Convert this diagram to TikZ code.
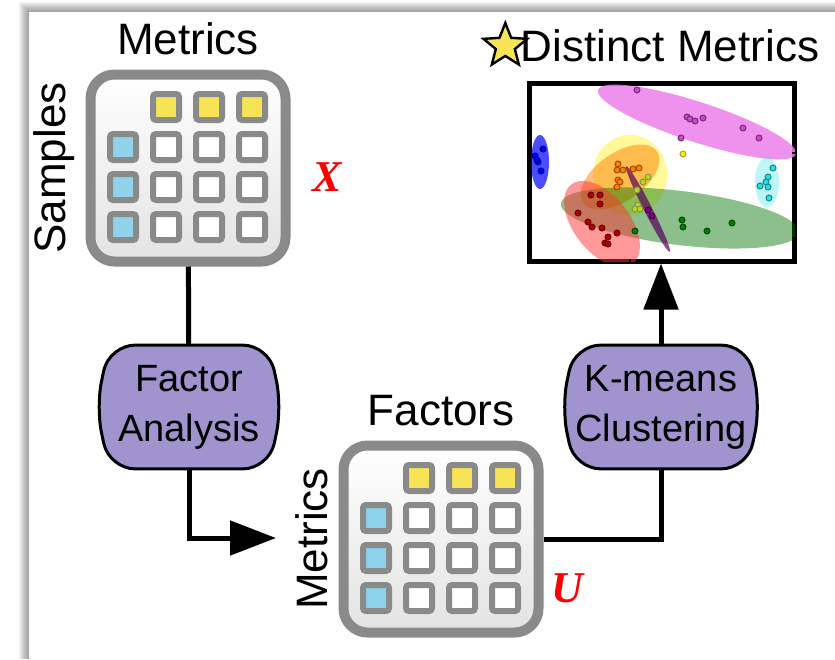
\documentclass[tikz,border=0pt]{standalone}
\usepackage{fontspec}
\setmainfont{Liberation Sans}
\newfontfamily\varfont{Liberation Serif}
\usetikzlibrary{positioning}
\usetikzlibrary{calc}
\usetikzlibrary{shapes.geometric}
\usetikzlibrary{arrows.meta}
\definecolor{cell yellow}{RGB}{246,228,86}
\definecolor{cell blue}{RGB}{143,210,236}
\definecolor{cell gray}{RGB}{138,138,138}
\definecolor{stage purple}{RGB}{160,148,206}
\definecolor{cluster pink}{RGB}{236,128,236}
\definecolor{point pink}{RGB}{205,70,205}
\definecolor{cluster cyan}{RGB}{40,225,230}
\tikzset{
    % Heavy black lines joining the stages
    flow/.style={line width=2.5pt},
    flow tip/.style={-{Triangle[length=23pt,width=17pt]}},
%
    % Rounded tile holding a data matrix
    data box/.style={
        draw=cell gray, line width=5pt, rounded corners=12pt,
        top color=white, bottom color=black!11,
        minimum width=97.5pt, minimum height=93.5pt, inner sep=0},
    % One entry of such a matrix
    cell/.style={
        draw=cell gray, line width=3pt, rounded corners=1.5pt,
        minimum size=13pt, inner sep=0},
%
    % Purple processing stage: text only, the outline goes behind it
    stage/.style={
        rectangle, inner xsep=0, minimum height=61.5pt, align=center,
        font=\fontsize{19}{25}\selectfont},
    stage outline/.style={
        draw, line width=1.5pt, fill=stage purple, rounded corners=13pt},
%
    % Text over and beside the tiles
    heading/.style={inner sep=0, font=\fontsize{22}{26}\selectfont},
    matrix name/.style={text=red, font=\varfont\bfseries\itshape\fontsize{22}{24}\selectfont},
%
    % Translucent clusters and points of the scatter plot
    cluster/.style={fill=#1, fill opacity=.5},
    dot/.style={circle, draw=#1!60!black, fill=#1, line width=.5pt,
        inner sep=0, minimum size=3pt}}
\pgfdeclarelayer{background}
\pgfsetlayers{background,main}

\begin{document}
\begin{tikzpicture}[x=0.5pt, y=-0.5pt]
\useasboundingbox (0,0) rectangle (835,659);

% Sheet with a soft shadow along its top and left
\begin{pgfonlayer}{background}
\foreach \k in {1,...,10}
    \fill[black, opacity=.045] ({29-\k},{12-\k}) rectangle (835,659);
\fill[white] (29,12) rectangle (835,659);
\end{pgfonlayer}

% The two matrices, X on top and U below
\foreach \name/\cx/\cy in {xmat/188/168, umat/441/539} {
    \node[data box] (\name) at (\cx,\cy) {};
    \foreach \i in {1,2,3}
        \node[cell, fill=cell yellow] at ({\cx-65+43*\i},{\cy-61}) {};
    \foreach \j in {1,2,3} {
        \node[cell, fill=cell blue] at ({\cx-65},{\cy-61+40*\j}) {};
        \foreach \i in {1,2,3}
            \node[cell, fill=white] at ({\cx-65+43*\i},{\cy-61+40*\j}) {};
    }
}

\node[heading, above=7pt of xmat] (xmat cols) {Metrics};
\node[heading, rotate=90, anchor=south] (xmat rows)
    at ([xshift=-5pt]xmat.west) {Samples};
\node[matrix name] (xmat label) at (327,177) {X};

\node[heading, above=7pt of umat] (umat cols) {Factors};
\node[heading, rotate=90, anchor=south] (umat rows)
    at ([xshift=-5pt]umat.west) {Metrics};
\node[matrix name] (umat label) at (567,588) {U};

% Scatter plot of the clustered metrics
\node[draw, line width=2.5pt, minimum width=132.5pt, minimum height=89pt,
    inner sep=0] (plot) at (662,172) {};

\begin{scope}
    \clip (529,82) rectangle (795,261);
    \fill[cluster=blue, fill opacity=.7] (540,162) ellipse (9 and 27);
    \fill[cluster=cluster pink, fill opacity=.85, rotate around={-18:(697,122)}]
        (697,122) ellipse (104 and 20);
    \fill[cluster=cluster cyan, fill opacity=.3] (767,182) ellipse (12 and 25);
    \fill[cluster=yellow, fill opacity=.4] (630,175) ellipse (37 and 40);
    \fill[cluster=orange, fill opacity=.5, rotate around={35:(620,177)}]
        (620,177) ellipse (45 and 24);
    \fill[cluster=green!45!black, fill opacity=.45, rotate around={-7:(680,218)}]
        (680,218) ellipse (120 and 27);
    \fill[cluster=red!80, rotate around={-52:(602,224)}]
        (602,224) ellipse (50 and 28);
    \fill[cluster=violet!70!black, fill opacity=.7, rotate around={-63:(648,209)}]
        (648,209) ellipse (48 and 4);

    \foreach \px/\py in {637/90, 687/117, 690/119, 695/121, 703/118,
            743/128, 759/138, 681/138}
        \node[dot=point pink] at (\px,\py) {};
    \node[dot=yellow] at (683,154) {};
    \foreach \px/\py in {543/149, 535/156, 538/162, 541/171, 537/160}
        \node[dot=blue] at (\px,\py) {};
    \foreach \px/\py in {773/168, 768/177, 766/182, 760/186, 768/187, 769/198}
        \node[dot=cluster cyan] at (\px,\py) {};
    \foreach \px/\py in {618/164, 617/170, 623/170, 633/169, 639/168,
            618/180, 617/187, 620/182}
        \node[dot=orange] at (\px,\py) {};
    \foreach \px/\py in {648/177, 643/182, 637/190, 638/205, 635/209, 640/209}
        \node[dot=yellow!70!green] at (\px,\py) {};
    \foreach \px/\py in {591/195, 600/195, 600/204, 578/213, 588/222,
            592/227, 602/228, 617/233, 608/237, 605/243, 608/244}
        \node[dot=red!70!black] at (\px,\py) {};
    \foreach \px/\py in {635/231, 682/220, 683/227, 707/231, 732/223}
        \node[dot=green!50!black] at (\px,\py) {};
    \foreach \px/\py in {652/216, 648/210}
        \node[dot=violet] at (\px,\py) {};
\end{scope}

% Axis ticks along the right and bottom edges
\foreach \ty in {90,112,132,153,175,197,217,238}
    \draw[line width=.6pt] (plot.east |- 0,\ty) -- ++(-5,0);
\foreach \tx in {553,592,630,667,705,742,778}
    \draw[line width=.6pt] (plot.south -| \tx,0) -- ++(0,-5);

\node[heading, above=9pt of plot, xshift=4pt] (plot title) {Distinct Metrics};
\node[star, star points=5, star point ratio=2.3, draw, line width=1.2pt,
    fill=cell yellow, minimum size=23pt, inner sep=0,
    left=0pt of plot title] (plot star) {};

% The two processing stages, with bulging sides drawn behind the text
\node[stage, minimum width=79.5pt] (factor analysis) at (189,407)
    {Factor\\Analysis};
\node[stage, minimum width=86pt] (kmeans) at (661,407)
    {K-means\\Clustering};

\begin{pgfonlayer}{background}
\foreach \s in {factor analysis, kmeans}
    \draw[stage outline] (\s.north) -- (\s.north east)
        -- ([xshift=6.5pt]\s.east) -- (\s.south east) -- (\s.south west)
        -- ([xshift=-6.5pt]\s.west) -- (\s.north west) -- cycle;
\end{pgfonlayer}

\coordinate (umat entry) at (276,538);

\draw[flow] (xmat) -- (factor analysis);
\draw[flow, flow tip] (factor analysis) |- (umat entry);
\draw[flow] (umat.east) -| (kmeans);
\draw[flow, flow tip] (kmeans) -- (kmeans |- plot.south);

\end{tikzpicture}
\end{document}
